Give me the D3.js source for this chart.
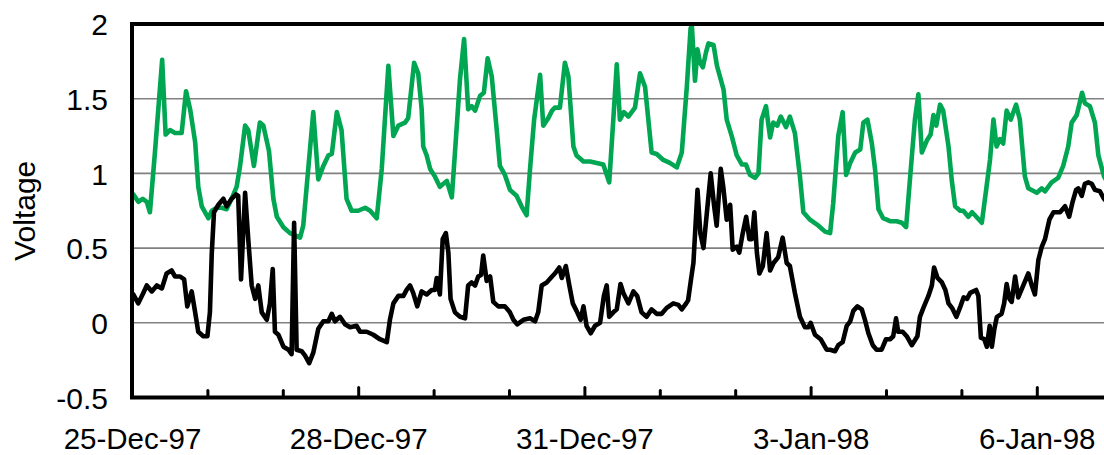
<!DOCTYPE html>
<html><head><meta charset="utf-8">
<script src="https://cdn.jsdelivr.net/npm/d3@7"></script>
<style>
body{margin:0;background:#fff}
svg{display:block}
text{font-family:"Liberation Sans",Arial,sans-serif}
</style>
</head><body>
<svg id="c" width="1104" height="455"></svg>
<script>
// hours since 25-Dec-97 00:00
const greenHours=[0.4,2.0,3.4,4.7,5.7,7.3,9.6,10.7,12.1,13.7,
15.8,17.2,18.5,20.1,21.1,22.2,24.3,25.4,27.0,28.6,
30.1,31.7,33.3,34.4,36.0,37.0,38.8,40.7,41.8,43.6,
45.0,46.1,48.2,50.3,53.5,54.5,56.1,57.7,59.3,60.9,
62.5,63.6,65.2,66.7,68.3,69.9,72.0,74.2,75.8,77.9,
79.5,81.6,83.2,84.8,86.9,87.9,89.8,91.1,92.2,92.7,
93.8,94.9,96.4,98.0,100.2,101.8,102.8,104.4,105.7,107.0,
108.1,109.2,110.8,112.0,113.2,114.5,116.1,117.1,118.7,120.3,
122.4,124.0,125.6,126.7,128.0,129.9,130.9,132.5,133.7,134.6,
136.2,137.8,138.9,140.5,141.5,143.7,145.8,147.9,150.0,151.9,
153.2,154.3,155.3,156.6,158.0,160.1,161.7,163.3,165.4,167.0,
169.1,171.2,173.4,175.0,176.6,177.8,178.2,179.2,180.0,180.8,
181.7,182.7,183.5,185.1,186.2,188.3,189.3,190.9,192.5,194.1,
195.4,196.7,198.3,199.4,200.4,201.8,203.1,204.1,205.4,206.5,
208.2,209.4,211.0,212.6,213.7,215.8,218.5,220.6,222.2,223.2,
224.8,226.2,227.3,228.6,230.2,231.8,232.8,234.1,235.5,236.5,
237.6,239.1,241.3,243.4,245.0,246.4,247.7,249.2,250.3,251.4,
253.0,254.2,255.1,256.0,257.2,258.2,259.9,260.9,262.0,263.6,
264.6,266.2,267.4,268.3,270.5,272.0,273.1,274.2,275.2,276.3,
277.3,278.4,279.7,281.4,282.6,284.2,285.3,288.0,289.6,290.6,
292.7,294.8,296.4,298.0,299.1,300.7,301.5,302.4,303.3,304.9,
306.5,307.6,309.4,310.7];
const greenValues=[0.86,0.81,0.83,0.81,0.74,1.14,1.76,1.26,1.29,1.27,
1.27,1.55,1.43,1.21,0.91,0.78,0.70,0.75,0.77,0.77,
0.76,0.83,0.91,1.05,1.32,1.29,1.05,1.34,1.32,1.15,
0.83,0.71,0.64,0.60,0.57,0.65,1.03,1.41,0.96,1.05,
1.12,1.13,1.41,1.29,0.83,0.75,0.75,0.77,0.75,0.70,
1.03,1.72,1.25,1.32,1.34,1.37,1.74,1.67,1.43,1.18,
1.12,1.03,0.98,0.91,0.95,0.84,1.14,1.63,1.90,1.43,
1.45,1.42,1.52,1.54,1.77,1.65,1.29,1.05,0.99,0.89,
0.85,0.78,0.72,1.03,1.36,1.66,1.32,1.37,1.42,1.44,
1.44,1.74,1.65,1.18,1.12,1.08,1.08,1.07,1.06,0.94,
1.36,1.73,1.36,1.41,1.38,1.44,1.67,1.58,1.14,1.13,
1.09,1.07,1.04,1.14,1.58,1.97,1.99,1.62,1.83,1.74,
1.71,1.81,1.87,1.86,1.72,1.56,1.36,1.25,1.12,1.06,
1.06,0.99,0.97,1.00,1.36,1.45,1.24,1.34,1.32,1.38,
1.31,1.38,1.27,0.98,0.74,0.69,0.65,0.61,0.60,0.80,
1.25,1.41,0.99,1.07,1.14,1.16,1.34,1.36,1.20,1.03,
0.76,0.70,0.68,0.68,0.67,0.64,0.98,1.36,1.53,1.14,
1.22,1.26,1.39,1.32,1.46,1.42,1.18,0.96,0.78,0.75,
0.75,0.71,0.74,0.72,0.67,0.91,1.09,1.36,1.18,1.23,
1.20,1.42,1.36,1.46,1.36,0.98,0.90,0.87,0.90,0.88,
0.94,0.97,1.05,1.18,1.34,1.39,1.46,1.54,1.47,1.45,
1.34,1.12,0.98,0.93];
const blackHours=[0.4,2.0,3.6,4.7,6.3,7.9,9.5,11.0,12.6,13.7,
15.3,16.6,17.6,19.0,20.1,21.1,22.7,24.0,24.8,25.4,
26.1,27.5,29.1,30.1,31.7,33.1,33.8,34.7,36.0,37.0,
38.1,39.2,40.2,41.3,42.9,43.9,44.8,45.5,46.6,48.2,
49.8,50.8,51.6,52.4,54.0,55.1,56.4,57.7,59.3,60.9,
62.5,63.6,64.6,66.2,67.8,69.4,71.5,72.6,74.7,76.8,
78.9,81.1,82.1,83.2,84.8,86.4,87.4,88.5,89.5,90.8,
92.2,93.8,95.4,96.4,97.0,98.0,98.9,99.9,100.7,101.4,
102.8,104.4,106.0,107.0,108.1,109.2,110.2,111.1,111.8,112.9,
114.0,115.0,116.6,118.7,120.3,121.4,122.6,124.6,126.7,128.3,
129.3,130.4,132.0,133.7,134.6,136.0,136.8,138.1,139.2,140.3,
141.5,142.8,143.7,144.7,146.0,147.4,149.0,150.2,151.1,151.9,
153.2,154.3,155.5,156.4,158.0,159.6,160.8,162.2,163.8,165.4,
167.0,168.6,170.2,172.3,173.9,175.0,176.4,177.0,178.0,178.7,
180.0,180.9,181.9,183.0,184.2,185.3,186.1,187.4,188.2,189.3,
190.4,191.2,192.5,193.3,194.4,195.5,196.5,197.3,198.1,198.9,
199.7,200.8,202.0,203.1,204.2,205.7,207.1,208.4,209.4,211.0,
212.6,214.2,215.3,216.0,217.4,219.2,221.1,222.2,223.8,224.8,
226.2,227.5,228.6,229.6,230.9,232.3,233.3,234.4,235.8,237.0,
238.6,240.0,241.3,242.3,243.2,243.9,245.3,246.6,248.2,250.0,
250.8,251.9,253.5,254.6,255.3,256.4,257.8,258.9,259.9,261.0,
262.4,263.7,264.7,265.8,266.8,268.7,269.4,270.2,271.3,272.1,
273.0,273.7,274.5,275.3,276.8,277.6,278.4,279.3,280.0,281.1,
282.1,283.7,285.3,286.4,287.4,288.5,289.6,290.6,292.0,293.3,
295.4,297.0,298.3,299.4,300.5,301.2,302.3,303.3,304.4,305.5,
306.5,308.1,309.4,310.7];
const blackValues=[0.19,0.13,0.20,0.25,0.21,0.25,0.23,0.33,0.35,0.31,
0.31,0.29,0.11,0.21,0.07,-0.06,-0.09,-0.09,0.07,0.47,
0.74,0.79,0.83,0.78,0.83,0.86,0.85,0.29,0.87,0.56,
0.25,0.16,0.25,0.07,0.02,0.13,0.36,-0.06,-0.08,-0.16,
-0.18,-0.21,0.67,-0.18,-0.19,-0.22,-0.27,-0.20,-0.04,0.01,
0.01,0.06,0.01,0.04,-0.01,-0.03,-0.02,-0.06,-0.06,-0.08,
-0.11,-0.13,0.02,0.13,0.18,0.18,0.22,0.25,0.20,0.11,
0.21,0.19,0.22,0.22,0.30,0.19,0.56,0.60,0.47,0.16,
0.07,0.04,0.03,0.25,0.27,0.25,0.31,0.32,0.45,0.28,
0.31,0.14,0.11,0.11,0.07,0.02,-0.01,0.02,0.03,0.01,
0.07,0.25,0.27,0.31,0.33,0.37,0.30,0.38,0.25,0.13,
0.08,0.02,0.11,-0.02,-0.07,-0.02,0.00,0.18,0.25,0.04,
0.07,0.09,0.26,0.20,0.13,0.21,0.18,0.07,0.04,0.09,
0.06,0.06,0.10,0.13,0.12,0.09,0.13,0.15,0.30,0.40,
0.89,0.60,0.50,0.74,1.00,0.78,0.65,1.03,0.91,0.69,
0.79,0.49,0.51,0.47,0.60,0.71,0.56,0.56,0.74,0.47,
0.33,0.38,0.60,0.35,0.40,0.44,0.57,0.40,0.38,0.20,
0.04,-0.03,-0.03,0.00,-0.08,-0.11,-0.18,-0.18,-0.19,-0.15,
-0.13,-0.02,0.01,0.08,0.11,0.09,0.02,-0.07,-0.15,-0.18,
-0.18,-0.11,-0.11,-0.09,0.03,-0.06,-0.06,-0.09,-0.15,-0.09,
0.04,0.10,0.18,0.25,0.37,0.30,0.27,0.22,0.13,0.10,
0.04,0.11,0.17,0.16,0.20,0.22,0.18,-0.10,-0.11,-0.16,
-0.02,-0.16,-0.04,0.04,0.06,0.13,0.26,0.16,0.14,0.31,
0.17,0.25,0.33,0.25,0.19,0.42,0.51,0.56,0.69,0.74,
0.74,0.78,0.71,0.81,0.89,0.90,0.85,0.93,0.94,0.93,
0.89,0.88,0.83,0.80];
const yTicks=[-0.5,0,0.5,1,1.5,2];
const gridValues=[0,0.5,1,1.5];
const labelEveryDays=3;
const yTitle="Voltage";

const start=Date.UTC(1997,11,25);
const HOUR=3600e3, DAY=24*HOUR;
const toDate=h=>new Date(start+h*HOUR);

const L=132, T=24, B=397.5, R=1104, dayPx=75.4;
const x=d3.scaleUtc().domain([new Date(start), new Date(start+13*DAY)]).range([L, L+13*dayPx]);
const y=d3.scaleLinear().domain([-0.5,2]).range([B,T]);

const svg=d3.select("#c");
svg.append("defs").append("clipPath").attr("id","clip")
  .append("rect").attr("x",L).attr("y",T-4).attr("width",R-L).attr("height",B-T+4);

// gridlines
svg.append("g").selectAll("line").data(gridValues).join("line")
  .attr("x1",L).attr("x2",R).attr("y1",d=>y(d)).attr("y2",d=>y(d))
  .attr("stroke","#808080").attr("stroke-width",1.6);

const line=d3.line().x(d=>x(toDate(d[0]))).y(d=>y(d[1]));
const gLines=svg.append("g").attr("clip-path","url(#clip)");
gLines.append("path").datum(d3.zip(greenHours,greenValues))
  .attr("d",line).attr("fill","none").attr("stroke","#00A651")
  .attr("stroke-width",4.6).attr("stroke-linejoin","round").attr("stroke-linecap","round");
gLines.append("path").datum(d3.zip(blackHours,blackValues))
  .attr("d",line).attr("fill","none").attr("stroke","#000")
  .attr("stroke-width",4.6).attr("stroke-linejoin","round").attr("stroke-linecap","round");

// frame
svg.append("path").attr("d",`M${R+5},${T}H${L}V${B}H${R+5}`)
  .attr("fill","none").attr("stroke","#000").attr("stroke-width",4).attr("stroke-linejoin","miter");

// x axis
const days=d3.utcDay.range(new Date(start), new Date(start+13*DAY+1));
const fmt=d3.utcFormat("%-d-%b-%y");
const isMajor=d=>Math.round((d-start)/DAY)%labelEveryDays===0;
const xa=svg.append("g").attr("transform",`translate(0,${B})`)
  .call(d3.axisBottom(x).tickValues(days).tickSize(0).tickFormat(d=>isMajor(d)?fmt(d):""));
xa.select(".domain").remove();
xa.selectAll(".tick").append("line").attr("y1",0).attr("y2",d=>isMajor(d)?-10:-7)
  .attr("stroke","#000").attr("stroke-width",3).attr("stroke-linecap","round");
xa.selectAll(".tick text").attr("y",51.5).attr("dy",0)
  .attr("font-size",29.5).attr("fill","#000").attr("font-family","Liberation Sans, Arial, sans-serif");

// y axis
const ya=svg.append("g").attr("transform",`translate(${L},0)`)
  .call(d3.axisLeft(y).tickValues(yTicks).tickSize(0).tickPadding(24).tickFormat(d=>String(d)));
ya.select(".domain").remove();
ya.selectAll(".tick text").attr("dy","0.36em").attr("font-size",30).attr("fill","#000")
  .attr("font-family","Liberation Sans, Arial, sans-serif");

svg.append("text").attr("transform",`translate(35,${(T+B)/2}) rotate(-90)`)
  .attr("text-anchor","middle").attr("font-size",30).attr("fill","#000").text(yTitle);
</script>
</body></html>
